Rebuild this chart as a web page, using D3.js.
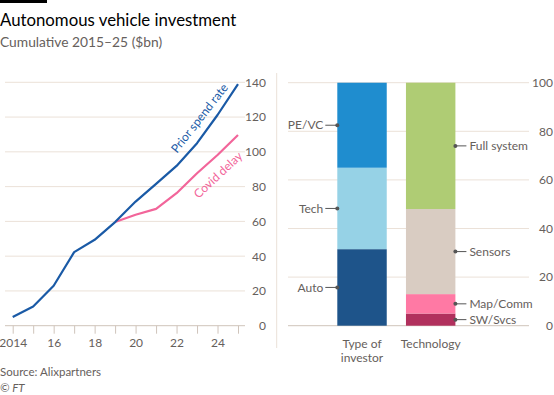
<!DOCTYPE html>
<html><head><meta charset="utf-8">
<script src="https://cdn.jsdelivr.net/npm/d3@7"></script>
<style>
body{margin:0;background:#fff;}
svg{display:block;font-family:Lato, "Open Sans", sans-serif;}
</style></head>
<body>
<svg id="c" width="554" height="395"></svg>
<script>
const years = [2014,2015,2016,2017,2018,2019,2020,2021,2022,2023,2024,2025];
const priorSpend = [5,11,23,42.3,49.4,59.6,71.4,81.6,91.9,105,121.2,138.9];
const covidYears = [2019,2020,2021,2022,2023,2024,2025];
const covidDelay = [59.6,63.8,67.2,76.2,87.7,98.2,109.7];
const lineTicks = [0,20,40,60,80,100,120,140];
const xTickLabels = {2014:"2014",2016:"16",2018:"18",2020:"20",2022:"22",2024:"24"};

const investorCats = ["Auto","Tech","PE/VC"];
const investorVals = [31.5,33.5,35];
const investorColors = ["#1e548a","#96d2e6","#1f8dcf"];
const techCats = ["SW/Svcs","Map/Comm","Sensors","Full system"];
const techVals = [5,8,35,52];
const techColors = ["#b1305d","#ff79a4","#d9ccc2","#afcc74"];
const barGroups = ["Type of investor","Technology"];
const barTicks = [0,20,40,60,80,100];

const svg = d3.select("#c");
const grid = "#ebe1d8", axisCol = "#cfc4bb", txt = "#66605c";
const FS = 12;

// header
svg.append("rect").attr("x",0).attr("y",0).attr("width",47).attr("height",3).attr("fill","#000");
svg.append("text").attr("x",0).attr("y",26).attr("font-size",16.8).attr("fill","#000").text("Autonomous vehicle investment");
svg.append("text").attr("x",0).attr("y",47).attr("font-size",13.8).attr("fill",txt).text("Cumulative 2015–25 ($bn)");

// left chart
const x = d3.scaleLinear().domain([2014,2025]).range([12.7,238]);
const y = d3.scaleLinear().domain([0,140]).range([325.7,82.3]);
const L = svg.append("g");
lineTicks.forEach(t=>{
  L.append("line").attr("x1",5).attr("x2",245).attr("y1",y(t)).attr("y2",y(t))
    .attr("stroke", t===0?axisCol:grid).attr("stroke-width",1);
});
const yAxL = d3.axisRight(y).tickValues(lineTicks).tickSize(0).tickPadding(0);
L.append("g").attr("transform","translate(266,0)").call(yAxL)
  .call(g=>{g.select(".domain").remove(); g.selectAll("text").attr("text-anchor","end").attr("fill",txt).attr("font-size",FS).attr("font-family","Lato, sans-serif");});
const xAx = d3.axisBottom(x).tickValues(years).tickSize(8).tickFormat(d=>xTickLabels[d]||"").tickPadding(5);
L.append("g").attr("transform","translate(0,325.7)").call(xAx)
  .call(g=>{g.select(".domain").remove(); g.selectAll("line").attr("stroke",axisCol);
    g.selectAll("text").attr("fill",txt).attr("font-size",FS).attr("font-family","Lato, sans-serif");});
const line = d3.line().x(d=>x(d[0])).y(d=>y(d[1]));
L.append("path").datum(covidYears.map((yr,i)=>[yr,covidDelay[i]])).attr("d",line)
  .attr("fill","none").attr("stroke","#f2659a").attr("stroke-width",2.2).attr("stroke-linejoin","round");
L.append("path").datum(years.map((yr,i)=>[yr,priorSpend[i]])).attr("d",line)
  .attr("fill","none").attr("stroke","#1a5aa6").attr("stroke-width",2.2).attr("stroke-linejoin","round");
// line labels
function rotLabel(text, px, py, ang, col){
  L.append("text").attr("transform",`translate(${px},${py}) rotate(${ang})`)
   .attr("font-size",FS).attr("fill",col).attr("text-anchor","middle").attr("dy","0.35em").text(text);
}
rotLabel("Prior spend rate", x(2023.12), y(119.4), -52, "#1a5aa6");
rotLabel("Covid delay", x(2024.02), y(86.7), -43, "#f2659a");

// separator
svg.append("line").attr("x1",276.7).attr("x2",276.7).attr("y1",73).attr("y2",348).attr("stroke",grid);

// right chart
const yb = d3.scaleLinear().domain([0,100]).range([325.7,82.7]);
const xb = d3.scaleBand().domain(barGroups).range([337.3,455.4]).paddingInner(0.28).paddingOuter(0);
const R = svg.append("g");
barTicks.forEach(t=>{
  R.append("line").attr("x1",288).attr("x2",529).attr("y1",yb(t)).attr("y2",yb(t))
    .attr("stroke", t===0?axisCol:grid);
});
R.append("g").attr("transform","translate(553,0)").call(d3.axisRight(yb).tickValues(barTicks).tickSize(0).tickPadding(0))
  .call(g=>{g.select(".domain").remove(); g.selectAll("text").attr("text-anchor","end").attr("fill",txt).attr("font-size",FS).attr("font-family","Lato, sans-serif");});

function stack(cats, vals, cols, grp, side){
  let cum = 0;
  cats.forEach((c,i)=>{
    const y0 = cum, y1 = cum + vals[i]; cum = y1;
    R.append("rect").attr("x",xb(grp)).attr("width",xb.bandwidth())
      .attr("y",yb(y1)).attr("height",yb(y0)-yb(y1)).attr("fill",cols[i]);
    const my = yb((y0+y1)/2);
    const ex = side==="left" ? xb(grp) : xb(grp)+xb.bandwidth();
    const lx = side==="left" ? ex-12 : ex+11;
    R.append("line").attr("x1",ex).attr("x2",lx).attr("y1",my).attr("y2",my).attr("stroke","#555").attr("stroke-width",1);
    R.append("circle").attr("cx",ex).attr("cy",my).attr("r",2).attr("fill","#555");
    R.append("text").attr("x", side==="left"? lx-2 : lx+3).attr("y",my).attr("dy","0.35em")
      .attr("text-anchor", side==="left"?"end":"start").attr("font-size",FS).attr("fill",txt).text(c);
  });
}
stack(investorCats, investorVals, investorColors, "Type of investor", "left");
stack(techCats, techVals, techColors, "Technology", "right");

const gl = R.append("g");
const cx1 = xb("Type of investor")+xb.bandwidth()/2, cx2 = xb("Technology")+xb.bandwidth()/2;
gl.append("text").attr("y",348).attr("text-anchor","middle")
  .attr("font-size",FS).attr("fill",txt).call(t=>{
    t.append("tspan").attr("x",cx1).text("Type of");
    t.append("tspan").attr("x",cx1).attr("dy",14).text("investor");
  });
gl.append("text").attr("x",cx2).attr("y",348).attr("text-anchor","middle")
  .attr("font-size",FS).attr("fill",txt).text("Technology");

// footer
svg.append("text").attr("x",0).attr("y",376).attr("font-size",11.5).attr("fill",txt).text("Source: Alixpartners");
svg.append("text").attr("x",0).attr("y",391.5).attr("font-size",11.5).attr("fill",txt).attr("font-style","italic").text("© FT");
</script>
</body></html>
